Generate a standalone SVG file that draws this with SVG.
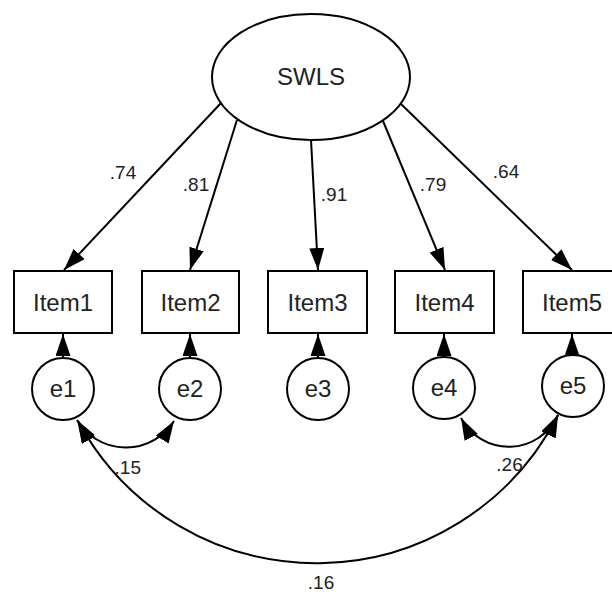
<svg xmlns="http://www.w3.org/2000/svg" width="612" height="592" viewBox="0 0 612 592">
<style>
.shape{fill:#fff;stroke:#000;stroke-width:2}
.lbl{font-family:"Liberation Sans",Arial,sans-serif;font-size:24px;fill:#222;text-anchor:middle}
.coef{font-family:"Liberation Sans",Arial,sans-serif;font-size:19px;fill:#222;text-anchor:middle}
.conn{fill:none;stroke:#000;stroke-width:2}
</style>
<defs>
<marker id="ah" markerUnits="userSpaceOnUse" markerWidth="22" markerHeight="15" viewBox="0 0 22 15" refX="22" refY="7.5" orient="auto-start-reverse">
<path d="M0,0 L22,7.5 L0,15 z" fill="#000"/>
</marker>
</defs>
<rect width="612" height="592" fill="#fff"/>
<g id="connectors">
<line class="conn" x1="221" y1="103" x2="64" y2="270" marker-end="url(#ah)"/>
<line class="conn" x1="237" y1="120" x2="190" y2="270" marker-end="url(#ah)"/>
<line class="conn" x1="311" y1="140" x2="318" y2="270" marker-end="url(#ah)"/>
<line class="conn" x1="383" y1="121" x2="445" y2="270" marker-end="url(#ah)"/>
<line class="conn" x1="401" y1="104" x2="572" y2="270" marker-end="url(#ah)"/>
<line class="conn" x1="63" y1="358" x2="63" y2="334" marker-end="url(#ah)"/>
<line class="conn" x1="190" y1="358" x2="190" y2="334" marker-end="url(#ah)"/>
<line class="conn" x1="318" y1="358" x2="318" y2="334" marker-end="url(#ah)"/>
<line class="conn" x1="444" y1="357" x2="444" y2="334" marker-end="url(#ah)"/>
<line class="conn" x1="572" y1="355" x2="572" y2="334" marker-end="url(#ah)"/>
<path class="conn" d="M77 420 A57 57 0 0 0 174 421" marker-start="url(#ah)" marker-end="url(#ah)"/>
<path class="conn" d="M461 418 A54 54 0 0 0 558 415" marker-start="url(#ah)" marker-end="url(#ah)"/>
<path class="conn" d="M78 421 A271 271 0 0 0 558 415" marker-start="url(#ah)" marker-end="url(#ah)"/>
<text class="coef" x="123" y="179">.74</text>
<text class="coef" x="196" y="191">.81</text>
<text class="coef" x="334" y="201">.91</text>
<text class="coef" x="433" y="191">.79</text>
<text class="coef" x="506" y="178">.64</text>
<text class="coef" x="141" y="474" style="text-anchor:end">.15</text>
<text class="coef" x="509.5" y="471">.26</text>
<text class="coef" x="321" y="589">.16</text>
</g>
<g id="SWLS">
<ellipse class="shape" cx="311" cy="77" rx="99" ry="63"/>
<text class="lbl" x="311" y="85" font-size="25">SWLS</text>
</g>
<g id="Item1"><rect class="shape" x="14" y="271" width="98" height="62"/><text class="lbl" x="63" y="311">Item1</text></g>
<g id="Item2"><rect class="shape" x="142" y="271" width="97" height="62"/><text class="lbl" x="190.5" y="311">Item2</text></g>
<g id="Item3"><rect class="shape" x="268" y="271" width="99" height="62"/><text class="lbl" x="317.5" y="311">Item3</text></g>
<g id="Item4"><rect class="shape" x="395" y="271" width="99" height="62"/><text class="lbl" x="444.5" y="311">Item4</text></g>
<g id="Item5"><rect class="shape" x="523" y="271" width="98" height="62"/><text class="lbl" x="572" y="311">Item5</text></g>
<g id="e1"><circle class="shape" cx="63" cy="389" r="31"/><text class="lbl" x="63" y="397">e1</text></g>
<g id="e2"><circle class="shape" cx="190" cy="389" r="31"/><text class="lbl" x="190" y="397">e2</text></g>
<g id="e3"><circle class="shape" cx="318" cy="389" r="31"/><text class="lbl" x="318" y="397">e3</text></g>
<g id="e4"><circle class="shape" cx="444" cy="388" r="31"/><text class="lbl" x="444" y="396">e4</text></g>
<g id="e5"><circle class="shape" cx="573" cy="386" r="31"/><text class="lbl" x="573" y="394">e5</text></g>
</svg>
